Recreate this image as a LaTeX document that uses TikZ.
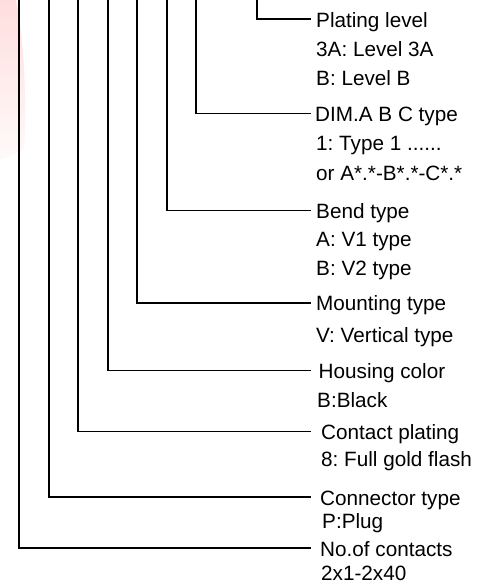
\documentclass[tikz,border=0pt]{standalone}
\usepackage{fontspec}
\setmainfont{Liberation Sans}
\frenchspacing
\tikzset{
    title/.style = {anchor=base west, inner sep=0pt, text height=16pt, text depth=0pt, font=\fontsize{20.7}{24}\selectfont},
    desc/.style = {anchor=base west, inner sep=0pt, font=\fontsize{20.7}{24}\selectfont},
    lead/.style = {draw=black, line width=1.6pt}
}
\begin{document}
\begin{tikzpicture}[x=1pt, y=-1pt]
    \useasboundingbox (0,0) rectangle (484,588);

    % faint mark on the left edge
    \shade[top color=red!13, bottom color=red!2]
        (0,0) -- (16,0) .. controls (24,40) and (27,100) .. (24,150) -- (0,160) -- cycle;

    % code fields, top to bottom
    \node [title] (plating) at (316,27.3) {Plating level};
    \node [desc] (plating1) at (316,56.7) {3A: Level 3A};
    \node [desc] (plating2) at (316,86) {B: Level B};

    \node [title] (dim) at (315,121.7) {DIM.A B C type};
    \node [desc] (dim1) at (316,150.7) {1: Type 1 ......};
    \node [desc] (dim2) at (316,180) {or A*.*-B*.*-C*.*};

    \node [title] (bend) at (316,218.3) {Bend type};
    \node [desc] (bend1) at (316,246) {A: V1 type};
    \node [desc] (bend2) at (316,275) {B: V2 type};

    \node [title] (mount) at (316,310.7) {Mounting type};
    \node [desc] (mount1) at (316,342.7) {V: Vertical type};

    \node [title] (housing) at (318.5,378.3) {Housing color};
    \node [desc] (housing1) at (317,407.3) {B:Black};

    \node [title] (contact) at (321,439.3) {Contact plating};
    \node [desc] (contact1) at (321,466.7) {8: Full gold flash};

    \node [title] (conn) at (320,505) {Connector type};
    \node [desc] (conn1) at (322,528.3) {P:Plug};

    \node [title] (pins) at (320,556) {No.of contacts};
    \node [desc] (pins1) at (321,580) {2x1-2x40};

    % leader lines
    \foreach \x/\n/\g in {257/plating/5, 196/dim/4.3, 167/bend/5.3, 137/mount/5.3,
                          108/housing/7.8, 78/contact/10.3, 49/conn/9.3, 19/pins/9.3}
    {
        \coordinate (top-\n) at (\x,0);
        \draw [lead, shorten >=\g pt] (top-\n) |- (\n.west);
    }
\end{tikzpicture}
\end{document}
